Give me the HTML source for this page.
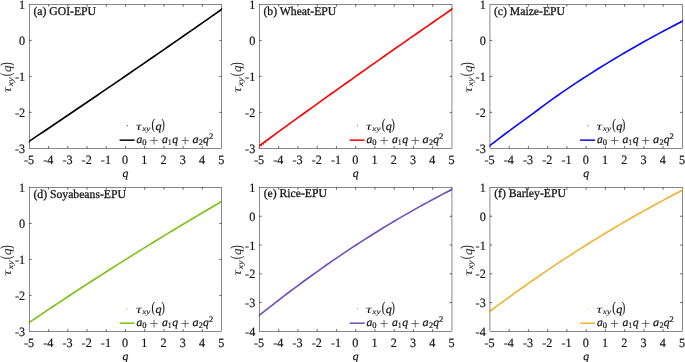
<!DOCTYPE html>
<html lang="en"><head><meta charset="utf-8"><title>Multifractal cross-correlation exponents</title>
<style>
html,body{margin:0;padding:0;background:#fff;}
body{width:685px;height:362px;overflow:hidden;}
svg{display:block;text-rendering:geometricPrecision;}
text{font-family:"Liberation Serif","DejaVu Serif",serif;fill:#141414;stroke:#141414;stroke-width:0.28px;}
.tk{font-size:12.2px;stroke-width:0.17px;}
.ti{font-size:11.7px;}
text.m{fill:#161616;stroke:#161616;stroke-width:0.22px;}
.i{font-style:italic;}
.pl{fill:#4e4e4e;stroke:none;}
text.yl{fill:#2a2a2a;stroke-width:0.08px;}
.ta{stroke:none;}
.sx{stroke-width:0.1px;}
.ax{stroke:#262626;stroke-width:0.54;fill:none;}
.tc{stroke-width:0.72;}
</style></head><body>
<svg width="685" height="362" viewBox="0 0 685 362">
<rect width="685" height="362" fill="#fff"/>
<g>
<polyline points="29.40,141.14 34.20,137.91 39.01,134.69 43.81,131.46 48.61,128.23 53.42,124.99 58.22,121.76 63.03,118.51 67.83,115.27 72.63,112.02 77.44,108.76 82.24,105.51 87.04,102.25 91.85,98.98 96.65,95.71 101.46,92.44 106.26,89.17 111.06,85.89 115.87,82.61 120.67,79.32 125.47,76.03 130.28,72.74 135.08,69.44 139.89,66.14 144.69,62.84 149.49,59.53 154.30,56.22 159.10,52.90 163.91,49.59 168.71,46.26 173.51,42.94 178.32,39.61 183.12,36.28 187.92,32.94 192.73,29.60 197.53,26.26 202.34,22.91 207.14,19.56 211.94,16.20 216.75,12.85 221.55,9.49" fill="none" stroke="#000000" stroke-width="1.62" stroke-linejoin="round"/>
<rect class="ax" x="29.4" y="4.45" width="192.15" height="143.88"/>
<path class="ax tc" d="M48.61 148.33v-2.2M48.61 4.45v2.2M67.83 148.33v-2.2M67.83 4.45v2.2M87.04 148.33v-2.2M87.04 4.45v2.2M106.26 148.33v-2.2M106.26 4.45v2.2M125.47 148.33v-2.2M125.47 4.45v2.2M144.69 148.33v-2.2M144.69 4.45v2.2M163.91 148.33v-2.2M163.91 4.45v2.2M183.12 148.33v-2.2M183.12 4.45v2.2M202.34 148.33v-2.2M202.34 4.45v2.2M29.4 112.36h2.2M221.55 112.36h-2.2M29.4 76.39h2.2M221.55 76.39h-2.2M29.4 40.42h2.2M221.55 40.42h-2.2"/>
<g fill="#000000"><circle cx="29.3" cy="141.94" r="0.75"/><circle cx="221.65" cy="8.74" r="0.75"/><circle cx="219.63" cy="10.38" r="0.75"/><circle cx="217.71" cy="11.9" r="0.75"/><circle cx="215.79" cy="13.35" r="0.75"/><circle cx="213.86" cy="14.76" r="0.75"/></g>
<text class="tk" transform="translate(29.05 163.53) scale(1 1.04)" text-anchor="middle">-5</text>
<text class="tk" transform="translate(48.26 163.53) scale(1 1.04)" text-anchor="middle">-4</text>
<text class="tk" transform="translate(67.48 163.53) scale(1 1.04)" text-anchor="middle">-3</text>
<text class="tk" transform="translate(86.69 163.53) scale(1 1.04)" text-anchor="middle">-2</text>
<text class="tk" transform="translate(105.91 163.53) scale(1 1.04)" text-anchor="middle">-1</text>
<text class="tk" transform="translate(125.12 163.53) scale(1 1.04)" text-anchor="middle">0</text>
<text class="tk" transform="translate(144.34 163.53) scale(1 1.04)" text-anchor="middle">1</text>
<text class="tk" transform="translate(163.56 163.53) scale(1 1.04)" text-anchor="middle">2</text>
<text class="tk" transform="translate(182.77 163.53) scale(1 1.04)" text-anchor="middle">3</text>
<text class="tk" transform="translate(201.99 163.53) scale(1 1.04)" text-anchor="middle">4</text>
<text class="tk" transform="translate(221.2 163.53) scale(1 1.04)" text-anchor="middle">5</text>
<text class="tk" transform="translate(25.2 152.78) scale(1 1.04)" text-anchor="end">-3</text>
<text class="tk" transform="translate(25.2 116.81) scale(1 1.04)" text-anchor="end">-2</text>
<text class="tk" transform="translate(25.2 80.84) scale(1 1.04)" text-anchor="end">-1</text>
<text class="tk" transform="translate(25.2 44.87) scale(1 1.04)" text-anchor="end">0</text>
<text class="tk" transform="translate(25.2 8.9) scale(1 1.04)" text-anchor="end">1</text>
<text class="ti" transform="translate(33.4 15.1) scale(1 1.02)">(a) GOI-EPU</text>
<text class="m" transform="translate(125.58 176.58)"><tspan class="i" x="-2.99" y="0" font-size="11.5" textLength="5.86" lengthAdjust="spacingAndGlyphs">q</tspan></text>
<text class="m yl" transform="translate(11.1 92.45) rotate(-90) scale(1.06)"><tspan class="i ta" x="-0.19" y="0" font-size="11.5" textLength="5.57" lengthAdjust="spacingAndGlyphs">τ</tspan><tspan class="i sx" x="5.96" y="1.6" font-size="7.3" textLength="8.28" lengthAdjust="spacingAndGlyphs">xy</tspan><tspan x="15.34" y="-0.2" font-size="14.6" textLength="3.5" lengthAdjust="spacingAndGlyphs">(</tspan><tspan class="i" x="19.35" y="0" font-size="11.5" textLength="6.09" lengthAdjust="spacingAndGlyphs">q</tspan><tspan x="25.29" y="-0.2" font-size="14.6" textLength="3.24" lengthAdjust="spacingAndGlyphs">)</tspan></text>
<circle cx="127.3" cy="125.7" r="0.55" fill="#000000"/>
<text class="m" transform="translate(136.25 129.5)"><tspan class="i ta" x="-0.19" y="0" font-size="11.5" textLength="5.57" lengthAdjust="spacingAndGlyphs">τ</tspan><tspan class="i sx" x="5.96" y="1.6" font-size="7.3" textLength="8.28" lengthAdjust="spacingAndGlyphs">xy</tspan><tspan x="15.34" y="-0.2" font-size="14.6" textLength="3.5" lengthAdjust="spacingAndGlyphs">(</tspan><tspan class="i" x="19.35" y="0" font-size="11.5" textLength="6.09" lengthAdjust="spacingAndGlyphs">q</tspan><tspan x="25.29" y="-0.2" font-size="14.6" textLength="3.24" lengthAdjust="spacingAndGlyphs">)</tspan></text>
<line x1="119.6" y1="140.15" x2="134.6" y2="140.15" stroke="#000000" stroke-width="1.5"/>
<text class="m" transform="translate(136.25 142.9)"><tspan class="i" x="0.21" y="0" font-size="11.5" textLength="5.78" lengthAdjust="spacingAndGlyphs">a</tspan><tspan x="6.03" y="1.9" font-size="8.4" textLength="4.25" lengthAdjust="spacingAndGlyphs">0</tspan><tspan class="pl" x="13.25" y="2.6" font-size="16" textLength="9.09" lengthAdjust="spacingAndGlyphs">+</tspan><tspan class="i" x="25.7" y="0" font-size="11.5" textLength="5.89" lengthAdjust="spacingAndGlyphs">a</tspan><tspan x="31.75" y="1.9" font-size="8.4" textLength="3.41" lengthAdjust="spacingAndGlyphs">1</tspan><tspan class="i" x="35.96" y="0" font-size="11.5" textLength="5.86" lengthAdjust="spacingAndGlyphs">q</tspan><tspan class="pl" x="44.23" y="2.6" font-size="16" textLength="9.33" lengthAdjust="spacingAndGlyphs">+</tspan><tspan class="i" x="56.29" y="0" font-size="11.5" textLength="6.13" lengthAdjust="spacingAndGlyphs">a</tspan><tspan x="62.59" y="1.9" font-size="8.4" textLength="4.12" lengthAdjust="spacingAndGlyphs">2</tspan><tspan class="i" x="66.87" y="0" font-size="11.5" textLength="5.75" lengthAdjust="spacingAndGlyphs">q</tspan><tspan x="72.78" y="-4.2" font-size="8.4" textLength="4.24" lengthAdjust="spacingAndGlyphs">2</tspan></text>
</g>
<g>
<polyline points="259.45,145.69 264.26,142.17 269.07,138.66 273.89,135.15 278.70,131.65 283.51,128.16 288.32,124.67 293.14,121.19 297.95,117.71 302.76,114.24 307.57,110.77 312.39,107.31 317.20,103.85 322.01,100.40 326.82,96.95 331.64,93.51 336.45,90.08 341.26,86.65 346.07,83.22 350.89,79.80 355.70,76.39 360.51,72.98 365.32,69.58 370.14,66.18 374.95,62.79 379.76,59.40 384.57,56.02 389.39,52.65 394.20,49.28 399.01,45.91 403.82,42.55 408.64,39.20 413.45,35.85 418.26,32.50 423.07,29.17 427.89,25.83 432.70,22.51 437.51,19.19 442.32,15.87 447.14,12.56 451.95,9.25" fill="none" stroke="#ff0000" stroke-width="1.62" stroke-linejoin="round"/>
<rect class="ax" x="259.45" y="4.45" width="192.5" height="143.88"/>
<path class="ax tc" d="M278.7 148.33v-2.2M278.7 4.45v2.2M297.95 148.33v-2.2M297.95 4.45v2.2M317.2 148.33v-2.2M317.2 4.45v2.2M336.45 148.33v-2.2M336.45 4.45v2.2M355.7 148.33v-2.2M355.7 4.45v2.2M374.95 148.33v-2.2M374.95 4.45v2.2M394.2 148.33v-2.2M394.2 4.45v2.2M413.45 148.33v-2.2M413.45 4.45v2.2M432.7 148.33v-2.2M432.7 4.45v2.2M259.45 112.36h2.2M451.95 112.36h-2.2M259.45 76.39h2.2M451.95 76.39h-2.2M259.45 40.42h2.2M451.95 40.42h-2.2"/>
<g fill="#ff0000"><circle cx="259.35" cy="147.79" r="0.75"/><circle cx="452.05" cy="8.5" r="0.75"/><circle cx="450.02" cy="10.12" r="0.75"/><circle cx="448.1" cy="11.62" r="0.75"/><circle cx="446.17" cy="13.05" r="0.75"/><circle cx="444.25" cy="14.44" r="0.75"/><circle cx="261.38" cy="145.78" r="0.75"/><circle cx="263.3" cy="143.95" r="0.75"/><circle cx="265.22" cy="142.24" r="0.75"/><circle cx="267.15" cy="140.62" r="0.75"/><circle cx="269.07" cy="139.06" r="0.75"/><circle cx="271" cy="137.54" r="0.75"/><circle cx="272.93" cy="136.06" r="0.75"/><circle cx="274.85" cy="134.6" r="0.75"/></g>
<text class="tk" transform="translate(259.1 163.53) scale(1 1.04)" text-anchor="middle">-5</text>
<text class="tk" transform="translate(278.35 163.53) scale(1 1.04)" text-anchor="middle">-4</text>
<text class="tk" transform="translate(297.6 163.53) scale(1 1.04)" text-anchor="middle">-3</text>
<text class="tk" transform="translate(316.85 163.53) scale(1 1.04)" text-anchor="middle">-2</text>
<text class="tk" transform="translate(336.1 163.53) scale(1 1.04)" text-anchor="middle">-1</text>
<text class="tk" transform="translate(355.35 163.53) scale(1 1.04)" text-anchor="middle">0</text>
<text class="tk" transform="translate(374.6 163.53) scale(1 1.04)" text-anchor="middle">1</text>
<text class="tk" transform="translate(393.85 163.53) scale(1 1.04)" text-anchor="middle">2</text>
<text class="tk" transform="translate(413.1 163.53) scale(1 1.04)" text-anchor="middle">3</text>
<text class="tk" transform="translate(432.35 163.53) scale(1 1.04)" text-anchor="middle">4</text>
<text class="tk" transform="translate(451.6 163.53) scale(1 1.04)" text-anchor="middle">5</text>
<text class="tk" transform="translate(255.25 152.78) scale(1 1.04)" text-anchor="end">-3</text>
<text class="tk" transform="translate(255.25 116.81) scale(1 1.04)" text-anchor="end">-2</text>
<text class="tk" transform="translate(255.25 80.84) scale(1 1.04)" text-anchor="end">-1</text>
<text class="tk" transform="translate(255.25 44.87) scale(1 1.04)" text-anchor="end">0</text>
<text class="tk" transform="translate(255.25 8.9) scale(1 1.04)" text-anchor="end">1</text>
<text class="ti" transform="translate(263.45 15.1) scale(1 1.02)">(b) Wheat-EPU</text>
<text class="m" transform="translate(355.8 176.58)"><tspan class="i" x="-2.99" y="0" font-size="11.5" textLength="5.86" lengthAdjust="spacingAndGlyphs">q</tspan></text>
<text class="m yl" transform="translate(241.15 92.45) rotate(-90) scale(1.06)"><tspan class="i ta" x="-0.19" y="0" font-size="11.5" textLength="5.57" lengthAdjust="spacingAndGlyphs">τ</tspan><tspan class="i sx" x="5.96" y="1.6" font-size="7.3" textLength="8.28" lengthAdjust="spacingAndGlyphs">xy</tspan><tspan x="15.34" y="-0.2" font-size="14.6" textLength="3.5" lengthAdjust="spacingAndGlyphs">(</tspan><tspan class="i" x="19.35" y="0" font-size="11.5" textLength="6.09" lengthAdjust="spacingAndGlyphs">q</tspan><tspan x="25.29" y="-0.2" font-size="14.6" textLength="3.24" lengthAdjust="spacingAndGlyphs">)</tspan></text>
<circle cx="357.35" cy="125.7" r="0.55" fill="#ff0000"/>
<text class="m" transform="translate(366.3 129.5)"><tspan class="i ta" x="-0.19" y="0" font-size="11.5" textLength="5.57" lengthAdjust="spacingAndGlyphs">τ</tspan><tspan class="i sx" x="5.96" y="1.6" font-size="7.3" textLength="8.28" lengthAdjust="spacingAndGlyphs">xy</tspan><tspan x="15.34" y="-0.2" font-size="14.6" textLength="3.5" lengthAdjust="spacingAndGlyphs">(</tspan><tspan class="i" x="19.35" y="0" font-size="11.5" textLength="6.09" lengthAdjust="spacingAndGlyphs">q</tspan><tspan x="25.29" y="-0.2" font-size="14.6" textLength="3.24" lengthAdjust="spacingAndGlyphs">)</tspan></text>
<line x1="349.65" y1="140.15" x2="364.65" y2="140.15" stroke="#ff0000" stroke-width="1.5"/>
<text class="m" transform="translate(366.3 142.9)"><tspan class="i" x="0.21" y="0" font-size="11.5" textLength="5.78" lengthAdjust="spacingAndGlyphs">a</tspan><tspan x="6.03" y="1.9" font-size="8.4" textLength="4.25" lengthAdjust="spacingAndGlyphs">0</tspan><tspan class="pl" x="13.25" y="2.6" font-size="16" textLength="9.09" lengthAdjust="spacingAndGlyphs">+</tspan><tspan class="i" x="25.7" y="0" font-size="11.5" textLength="5.89" lengthAdjust="spacingAndGlyphs">a</tspan><tspan x="31.75" y="1.9" font-size="8.4" textLength="3.41" lengthAdjust="spacingAndGlyphs">1</tspan><tspan class="i" x="35.96" y="0" font-size="11.5" textLength="5.86" lengthAdjust="spacingAndGlyphs">q</tspan><tspan class="pl" x="44.23" y="2.6" font-size="16" textLength="9.33" lengthAdjust="spacingAndGlyphs">+</tspan><tspan class="i" x="56.29" y="0" font-size="11.5" textLength="6.13" lengthAdjust="spacingAndGlyphs">a</tspan><tspan x="62.59" y="1.9" font-size="8.4" textLength="4.12" lengthAdjust="spacingAndGlyphs">2</tspan><tspan class="i" x="66.87" y="0" font-size="11.5" textLength="5.75" lengthAdjust="spacingAndGlyphs">q</tspan><tspan x="72.78" y="-4.2" font-size="8.4" textLength="4.24" lengthAdjust="spacingAndGlyphs">2</tspan></text>
</g>
<g>
<polyline points="489.95,145.44 494.76,141.78 499.57,138.12 504.38,134.50 509.19,130.94 514.00,127.42 518.81,123.92 523.62,120.40 528.43,116.86 533.24,113.29 538.05,109.73 542.86,106.17 547.67,102.65 552.48,99.17 557.29,95.76 562.10,92.40 566.91,89.10 571.72,85.85 576.53,82.66 581.34,79.51 586.15,76.40 590.96,73.33 595.77,70.29 600.58,67.29 605.39,64.32 610.20,61.38 615.01,58.48 619.82,55.61 624.63,52.78 629.44,49.98 634.25,47.21 639.06,44.47 643.87,41.77 648.68,39.10 653.49,36.47 658.30,33.87 663.11,31.30 667.92,28.76 672.73,26.26 677.54,23.79 682.35,21.36" fill="none" stroke="#0a0aff" stroke-width="1.62" stroke-linejoin="round"/>
<rect class="ax" x="489.95" y="4.45" width="192.4" height="143.88"/>
<path class="ax tc" d="M509.19 148.33v-2.2M509.19 4.45v2.2M528.43 148.33v-2.2M528.43 4.45v2.2M547.67 148.33v-2.2M547.67 4.45v2.2M566.91 148.33v-2.2M566.91 4.45v2.2M586.15 148.33v-2.2M586.15 4.45v2.2M605.39 148.33v-2.2M605.39 4.45v2.2M624.63 148.33v-2.2M624.63 4.45v2.2M643.87 148.33v-2.2M643.87 4.45v2.2M663.11 148.33v-2.2M663.11 4.45v2.2M489.95 112.36h2.2M682.35 112.36h-2.2M489.95 76.39h2.2M682.35 76.39h-2.2M489.95 40.42h2.2M682.35 40.42h-2.2"/>
<g fill="#0a0aff"><circle cx="489.85" cy="146.24" r="0.75"/><circle cx="682.45" cy="20.61" r="0.75"/><circle cx="680.43" cy="21.87" r="0.75"/><circle cx="678.5" cy="23.03" r="0.75"/><circle cx="676.58" cy="24.12" r="0.75"/><circle cx="674.65" cy="25.17" r="0.75"/></g>
<text class="tk" transform="translate(489.6 163.53) scale(1 1.04)" text-anchor="middle">-5</text>
<text class="tk" transform="translate(508.84 163.53) scale(1 1.04)" text-anchor="middle">-4</text>
<text class="tk" transform="translate(528.08 163.53) scale(1 1.04)" text-anchor="middle">-3</text>
<text class="tk" transform="translate(547.32 163.53) scale(1 1.04)" text-anchor="middle">-2</text>
<text class="tk" transform="translate(566.56 163.53) scale(1 1.04)" text-anchor="middle">-1</text>
<text class="tk" transform="translate(585.8 163.53) scale(1 1.04)" text-anchor="middle">0</text>
<text class="tk" transform="translate(605.04 163.53) scale(1 1.04)" text-anchor="middle">1</text>
<text class="tk" transform="translate(624.28 163.53) scale(1 1.04)" text-anchor="middle">2</text>
<text class="tk" transform="translate(643.52 163.53) scale(1 1.04)" text-anchor="middle">3</text>
<text class="tk" transform="translate(662.76 163.53) scale(1 1.04)" text-anchor="middle">4</text>
<text class="tk" transform="translate(682 163.53) scale(1 1.04)" text-anchor="middle">5</text>
<text class="tk" transform="translate(485.75 152.78) scale(1 1.04)" text-anchor="end">-3</text>
<text class="tk" transform="translate(485.75 116.81) scale(1 1.04)" text-anchor="end">-2</text>
<text class="tk" transform="translate(485.75 80.84) scale(1 1.04)" text-anchor="end">-1</text>
<text class="tk" transform="translate(485.75 44.87) scale(1 1.04)" text-anchor="end">0</text>
<text class="tk" transform="translate(485.75 8.9) scale(1 1.04)" text-anchor="end">1</text>
<text class="ti" transform="translate(493.95 15.1) scale(1 1.02)">(c) Maize-EPU</text>
<text class="m" transform="translate(586.25 176.58)"><tspan class="i" x="-2.99" y="0" font-size="11.5" textLength="5.86" lengthAdjust="spacingAndGlyphs">q</tspan></text>
<text class="m yl" transform="translate(471.65 92.45) rotate(-90) scale(1.06)"><tspan class="i ta" x="-0.19" y="0" font-size="11.5" textLength="5.57" lengthAdjust="spacingAndGlyphs">τ</tspan><tspan class="i sx" x="5.96" y="1.6" font-size="7.3" textLength="8.28" lengthAdjust="spacingAndGlyphs">xy</tspan><tspan x="15.34" y="-0.2" font-size="14.6" textLength="3.5" lengthAdjust="spacingAndGlyphs">(</tspan><tspan class="i" x="19.35" y="0" font-size="11.5" textLength="6.09" lengthAdjust="spacingAndGlyphs">q</tspan><tspan x="25.29" y="-0.2" font-size="14.6" textLength="3.24" lengthAdjust="spacingAndGlyphs">)</tspan></text>
<circle cx="587.85" cy="125.7" r="0.55" fill="#0a0aff"/>
<text class="m" transform="translate(596.8 129.5)"><tspan class="i ta" x="-0.19" y="0" font-size="11.5" textLength="5.57" lengthAdjust="spacingAndGlyphs">τ</tspan><tspan class="i sx" x="5.96" y="1.6" font-size="7.3" textLength="8.28" lengthAdjust="spacingAndGlyphs">xy</tspan><tspan x="15.34" y="-0.2" font-size="14.6" textLength="3.5" lengthAdjust="spacingAndGlyphs">(</tspan><tspan class="i" x="19.35" y="0" font-size="11.5" textLength="6.09" lengthAdjust="spacingAndGlyphs">q</tspan><tspan x="25.29" y="-0.2" font-size="14.6" textLength="3.24" lengthAdjust="spacingAndGlyphs">)</tspan></text>
<line x1="580.15" y1="140.15" x2="595.15" y2="140.15" stroke="#0a0aff" stroke-width="1.5"/>
<text class="m" transform="translate(596.8 142.9)"><tspan class="i" x="0.21" y="0" font-size="11.5" textLength="5.78" lengthAdjust="spacingAndGlyphs">a</tspan><tspan x="6.03" y="1.9" font-size="8.4" textLength="4.25" lengthAdjust="spacingAndGlyphs">0</tspan><tspan class="pl" x="13.25" y="2.6" font-size="16" textLength="9.09" lengthAdjust="spacingAndGlyphs">+</tspan><tspan class="i" x="25.7" y="0" font-size="11.5" textLength="5.89" lengthAdjust="spacingAndGlyphs">a</tspan><tspan x="31.75" y="1.9" font-size="8.4" textLength="3.41" lengthAdjust="spacingAndGlyphs">1</tspan><tspan class="i" x="35.96" y="0" font-size="11.5" textLength="5.86" lengthAdjust="spacingAndGlyphs">q</tspan><tspan class="pl" x="44.23" y="2.6" font-size="16" textLength="9.33" lengthAdjust="spacingAndGlyphs">+</tspan><tspan class="i" x="56.29" y="0" font-size="11.5" textLength="6.13" lengthAdjust="spacingAndGlyphs">a</tspan><tspan x="62.59" y="1.9" font-size="8.4" textLength="4.12" lengthAdjust="spacingAndGlyphs">2</tspan><tspan class="i" x="66.87" y="0" font-size="11.5" textLength="5.75" lengthAdjust="spacingAndGlyphs">q</tspan><tspan x="72.78" y="-4.2" font-size="8.4" textLength="4.24" lengthAdjust="spacingAndGlyphs">2</tspan></text>
</g>
<g>
<polyline points="29.40,322.39 34.20,319.14 39.01,315.90 43.81,312.67 48.61,309.45 53.42,306.25 58.22,303.06 63.03,299.88 67.83,296.71 72.63,293.55 77.44,290.41 82.24,287.28 87.04,284.16 91.85,281.05 96.65,277.95 101.46,274.87 106.26,271.79 111.06,268.73 115.87,265.68 120.67,262.65 125.47,259.62 130.28,256.61 135.08,253.60 139.89,250.61 144.69,247.64 149.49,244.67 154.30,241.72 159.10,238.77 163.91,235.84 168.71,232.92 173.51,230.02 178.32,227.12 183.12,224.24 187.92,221.37 192.73,218.51 197.53,215.66 202.34,212.82 207.14,210.00 211.94,207.19 216.75,204.39 221.55,201.60" fill="none" stroke="#7cc010" stroke-width="1.62" stroke-linejoin="round"/>
<rect class="ax" x="29.4" y="187.5" width="192.15" height="143.88"/>
<path class="ax tc" d="M48.61 331.38v-2.2M48.61 187.5v2.2M67.83 331.38v-2.2M67.83 187.5v2.2M87.04 331.38v-2.2M87.04 187.5v2.2M106.26 331.38v-2.2M106.26 187.5v2.2M125.47 331.38v-2.2M125.47 187.5v2.2M144.69 331.38v-2.2M144.69 187.5v2.2M163.91 331.38v-2.2M163.91 187.5v2.2M183.12 331.38v-2.2M183.12 187.5v2.2M202.34 331.38v-2.2M202.34 187.5v2.2M29.4 295.41h2.2M221.55 295.41h-2.2M29.4 259.44h2.2M221.55 259.44h-2.2M29.4 223.47h2.2M221.55 223.47h-2.2"/>
<g fill="#7cc010"><circle cx="29.3" cy="323.19" r="0.75"/><circle cx="221.65" cy="200.85" r="0.75"/><circle cx="219.63" cy="202.26" r="0.75"/><circle cx="217.71" cy="203.55" r="0.75"/><circle cx="215.79" cy="204.78" r="0.75"/><circle cx="213.86" cy="205.97" r="0.75"/></g>
<text class="tk" transform="translate(29.05 346.58) scale(1 1.04)" text-anchor="middle">-5</text>
<text class="tk" transform="translate(48.26 346.58) scale(1 1.04)" text-anchor="middle">-4</text>
<text class="tk" transform="translate(67.48 346.58) scale(1 1.04)" text-anchor="middle">-3</text>
<text class="tk" transform="translate(86.69 346.58) scale(1 1.04)" text-anchor="middle">-2</text>
<text class="tk" transform="translate(105.91 346.58) scale(1 1.04)" text-anchor="middle">-1</text>
<text class="tk" transform="translate(125.12 346.58) scale(1 1.04)" text-anchor="middle">0</text>
<text class="tk" transform="translate(144.34 346.58) scale(1 1.04)" text-anchor="middle">1</text>
<text class="tk" transform="translate(163.56 346.58) scale(1 1.04)" text-anchor="middle">2</text>
<text class="tk" transform="translate(182.77 346.58) scale(1 1.04)" text-anchor="middle">3</text>
<text class="tk" transform="translate(201.99 346.58) scale(1 1.04)" text-anchor="middle">4</text>
<text class="tk" transform="translate(221.2 346.58) scale(1 1.04)" text-anchor="middle">5</text>
<text class="tk" transform="translate(25.2 335.83) scale(1 1.04)" text-anchor="end">-3</text>
<text class="tk" transform="translate(25.2 299.86) scale(1 1.04)" text-anchor="end">-2</text>
<text class="tk" transform="translate(25.2 263.89) scale(1 1.04)" text-anchor="end">-1</text>
<text class="tk" transform="translate(25.2 227.92) scale(1 1.04)" text-anchor="end">0</text>
<text class="tk" transform="translate(25.2 191.95) scale(1 1.04)" text-anchor="end">1</text>
<text class="ti" transform="translate(33.4 198.15) scale(1 1.02)">(d) Soyabeans-EPU</text>
<text class="m" transform="translate(125.58 359.63)"><tspan class="i" x="-2.99" y="0" font-size="11.5" textLength="5.86" lengthAdjust="spacingAndGlyphs">q</tspan></text>
<text class="m yl" transform="translate(11.1 275.5) rotate(-90) scale(1.06)"><tspan class="i ta" x="-0.19" y="0" font-size="11.5" textLength="5.57" lengthAdjust="spacingAndGlyphs">τ</tspan><tspan class="i sx" x="5.96" y="1.6" font-size="7.3" textLength="8.28" lengthAdjust="spacingAndGlyphs">xy</tspan><tspan x="15.34" y="-0.2" font-size="14.6" textLength="3.5" lengthAdjust="spacingAndGlyphs">(</tspan><tspan class="i" x="19.35" y="0" font-size="11.5" textLength="6.09" lengthAdjust="spacingAndGlyphs">q</tspan><tspan x="25.29" y="-0.2" font-size="14.6" textLength="3.24" lengthAdjust="spacingAndGlyphs">)</tspan></text>
<circle cx="127.3" cy="308.75" r="0.55" fill="#7cc010"/>
<text class="m" transform="translate(136.25 312.55)"><tspan class="i ta" x="-0.19" y="0" font-size="11.5" textLength="5.57" lengthAdjust="spacingAndGlyphs">τ</tspan><tspan class="i sx" x="5.96" y="1.6" font-size="7.3" textLength="8.28" lengthAdjust="spacingAndGlyphs">xy</tspan><tspan x="15.34" y="-0.2" font-size="14.6" textLength="3.5" lengthAdjust="spacingAndGlyphs">(</tspan><tspan class="i" x="19.35" y="0" font-size="11.5" textLength="6.09" lengthAdjust="spacingAndGlyphs">q</tspan><tspan x="25.29" y="-0.2" font-size="14.6" textLength="3.24" lengthAdjust="spacingAndGlyphs">)</tspan></text>
<line x1="119.6" y1="323.2" x2="134.6" y2="323.2" stroke="#7cc010" stroke-width="1.5"/>
<text class="m" transform="translate(136.25 325.95)"><tspan class="i" x="0.21" y="0" font-size="11.5" textLength="5.78" lengthAdjust="spacingAndGlyphs">a</tspan><tspan x="6.03" y="1.9" font-size="8.4" textLength="4.25" lengthAdjust="spacingAndGlyphs">0</tspan><tspan class="pl" x="13.25" y="2.6" font-size="16" textLength="9.09" lengthAdjust="spacingAndGlyphs">+</tspan><tspan class="i" x="25.7" y="0" font-size="11.5" textLength="5.89" lengthAdjust="spacingAndGlyphs">a</tspan><tspan x="31.75" y="1.9" font-size="8.4" textLength="3.41" lengthAdjust="spacingAndGlyphs">1</tspan><tspan class="i" x="35.96" y="0" font-size="11.5" textLength="5.86" lengthAdjust="spacingAndGlyphs">q</tspan><tspan class="pl" x="44.23" y="2.6" font-size="16" textLength="9.33" lengthAdjust="spacingAndGlyphs">+</tspan><tspan class="i" x="56.29" y="0" font-size="11.5" textLength="6.13" lengthAdjust="spacingAndGlyphs">a</tspan><tspan x="62.59" y="1.9" font-size="8.4" textLength="4.12" lengthAdjust="spacingAndGlyphs">2</tspan><tspan class="i" x="66.87" y="0" font-size="11.5" textLength="5.75" lengthAdjust="spacingAndGlyphs">q</tspan><tspan x="72.78" y="-4.2" font-size="8.4" textLength="4.24" lengthAdjust="spacingAndGlyphs">2</tspan></text>
</g>
<g>
<polyline points="259.45,315.21 264.26,311.38 269.07,307.58 273.89,303.82 278.70,300.09 283.51,296.40 288.32,292.75 293.14,289.13 297.95,285.55 302.76,282.00 307.57,278.48 312.39,275.00 317.20,271.56 322.01,268.15 326.82,264.78 331.64,261.44 336.45,258.14 341.26,254.87 346.07,251.64 350.89,248.44 355.70,245.28 360.51,242.16 365.32,239.07 370.14,236.01 374.95,232.99 379.76,230.00 384.57,227.05 389.39,224.14 394.20,221.26 399.01,218.42 403.82,215.61 408.64,212.83 413.45,210.09 418.26,207.39 423.07,204.72 427.89,202.09 432.70,199.49 437.51,196.93 442.32,194.40 447.14,191.91 451.95,189.46" fill="none" stroke="#6f4fbe" stroke-width="1.62" stroke-linejoin="round"/>
<rect class="ax" x="259.45" y="187.5" width="192.5" height="143.88"/>
<path class="ax tc" d="M278.7 331.38v-2.2M278.7 187.5v2.2M297.95 331.38v-2.2M297.95 187.5v2.2M317.2 331.38v-2.2M317.2 187.5v2.2M336.45 331.38v-2.2M336.45 187.5v2.2M355.7 331.38v-2.2M355.7 187.5v2.2M374.95 331.38v-2.2M374.95 187.5v2.2M394.2 331.38v-2.2M394.2 187.5v2.2M413.45 331.38v-2.2M413.45 187.5v2.2M432.7 331.38v-2.2M432.7 187.5v2.2M259.45 302.6h2.2M451.95 302.6h-2.2M259.45 273.83h2.2M451.95 273.83h-2.2M259.45 245.05h2.2M451.95 245.05h-2.2M259.45 216.28h2.2M451.95 216.28h-2.2"/>
<g fill="#6f4fbe"><circle cx="259.35" cy="316.01" r="0.75"/><circle cx="452.05" cy="188.71" r="0.75"/><circle cx="450.02" cy="189.98" r="0.75"/><circle cx="448.1" cy="191.14" r="0.75"/><circle cx="446.17" cy="192.24" r="0.75"/><circle cx="444.25" cy="193.3" r="0.75"/></g>
<text class="tk" transform="translate(259.1 346.58) scale(1 1.04)" text-anchor="middle">-5</text>
<text class="tk" transform="translate(278.35 346.58) scale(1 1.04)" text-anchor="middle">-4</text>
<text class="tk" transform="translate(297.6 346.58) scale(1 1.04)" text-anchor="middle">-3</text>
<text class="tk" transform="translate(316.85 346.58) scale(1 1.04)" text-anchor="middle">-2</text>
<text class="tk" transform="translate(336.1 346.58) scale(1 1.04)" text-anchor="middle">-1</text>
<text class="tk" transform="translate(355.35 346.58) scale(1 1.04)" text-anchor="middle">0</text>
<text class="tk" transform="translate(374.6 346.58) scale(1 1.04)" text-anchor="middle">1</text>
<text class="tk" transform="translate(393.85 346.58) scale(1 1.04)" text-anchor="middle">2</text>
<text class="tk" transform="translate(413.1 346.58) scale(1 1.04)" text-anchor="middle">3</text>
<text class="tk" transform="translate(432.35 346.58) scale(1 1.04)" text-anchor="middle">4</text>
<text class="tk" transform="translate(451.6 346.58) scale(1 1.04)" text-anchor="middle">5</text>
<text class="tk" transform="translate(255.25 335.83) scale(1 1.04)" text-anchor="end">-4</text>
<text class="tk" transform="translate(255.25 307.05) scale(1 1.04)" text-anchor="end">-3</text>
<text class="tk" transform="translate(255.25 278.28) scale(1 1.04)" text-anchor="end">-2</text>
<text class="tk" transform="translate(255.25 249.5) scale(1 1.04)" text-anchor="end">-1</text>
<text class="tk" transform="translate(255.25 220.73) scale(1 1.04)" text-anchor="end">0</text>
<text class="tk" transform="translate(255.25 191.95) scale(1 1.04)" text-anchor="end">1</text>
<text class="ti" transform="translate(263.65 196.8) scale(1 1.02)">(e) Rice-EPU</text>
<text class="m" transform="translate(355.8 359.63)"><tspan class="i" x="-2.99" y="0" font-size="11.5" textLength="5.86" lengthAdjust="spacingAndGlyphs">q</tspan></text>
<text class="m yl" transform="translate(241.15 275.5) rotate(-90) scale(1.06)"><tspan class="i ta" x="-0.19" y="0" font-size="11.5" textLength="5.57" lengthAdjust="spacingAndGlyphs">τ</tspan><tspan class="i sx" x="5.96" y="1.6" font-size="7.3" textLength="8.28" lengthAdjust="spacingAndGlyphs">xy</tspan><tspan x="15.34" y="-0.2" font-size="14.6" textLength="3.5" lengthAdjust="spacingAndGlyphs">(</tspan><tspan class="i" x="19.35" y="0" font-size="11.5" textLength="6.09" lengthAdjust="spacingAndGlyphs">q</tspan><tspan x="25.29" y="-0.2" font-size="14.6" textLength="3.24" lengthAdjust="spacingAndGlyphs">)</tspan></text>
<circle cx="357.35" cy="308.75" r="0.55" fill="#6f4fbe"/>
<text class="m" transform="translate(366.3 312.55)"><tspan class="i ta" x="-0.19" y="0" font-size="11.5" textLength="5.57" lengthAdjust="spacingAndGlyphs">τ</tspan><tspan class="i sx" x="5.96" y="1.6" font-size="7.3" textLength="8.28" lengthAdjust="spacingAndGlyphs">xy</tspan><tspan x="15.34" y="-0.2" font-size="14.6" textLength="3.5" lengthAdjust="spacingAndGlyphs">(</tspan><tspan class="i" x="19.35" y="0" font-size="11.5" textLength="6.09" lengthAdjust="spacingAndGlyphs">q</tspan><tspan x="25.29" y="-0.2" font-size="14.6" textLength="3.24" lengthAdjust="spacingAndGlyphs">)</tspan></text>
<line x1="349.65" y1="323.2" x2="364.65" y2="323.2" stroke="#6f4fbe" stroke-width="1.5"/>
<text class="m" transform="translate(366.3 325.95)"><tspan class="i" x="0.21" y="0" font-size="11.5" textLength="5.78" lengthAdjust="spacingAndGlyphs">a</tspan><tspan x="6.03" y="1.9" font-size="8.4" textLength="4.25" lengthAdjust="spacingAndGlyphs">0</tspan><tspan class="pl" x="13.25" y="2.6" font-size="16" textLength="9.09" lengthAdjust="spacingAndGlyphs">+</tspan><tspan class="i" x="25.7" y="0" font-size="11.5" textLength="5.89" lengthAdjust="spacingAndGlyphs">a</tspan><tspan x="31.75" y="1.9" font-size="8.4" textLength="3.41" lengthAdjust="spacingAndGlyphs">1</tspan><tspan class="i" x="35.96" y="0" font-size="11.5" textLength="5.86" lengthAdjust="spacingAndGlyphs">q</tspan><tspan class="pl" x="44.23" y="2.6" font-size="16" textLength="9.33" lengthAdjust="spacingAndGlyphs">+</tspan><tspan class="i" x="56.29" y="0" font-size="11.5" textLength="6.13" lengthAdjust="spacingAndGlyphs">a</tspan><tspan x="62.59" y="1.9" font-size="8.4" textLength="4.12" lengthAdjust="spacingAndGlyphs">2</tspan><tspan class="i" x="66.87" y="0" font-size="11.5" textLength="5.75" lengthAdjust="spacingAndGlyphs">q</tspan><tspan x="72.78" y="-4.2" font-size="8.4" textLength="4.24" lengthAdjust="spacingAndGlyphs">2</tspan></text>
</g>
<g>
<polyline points="489.95,311.24 494.76,307.65 499.57,304.10 504.38,300.58 509.19,297.08 514.00,293.61 518.81,290.17 523.62,286.76 528.43,283.38 533.24,280.03 538.05,276.71 542.86,273.41 547.67,270.14 552.48,266.91 557.29,263.70 562.10,260.52 566.91,257.37 571.72,254.25 576.53,251.15 581.34,248.09 586.15,245.05 590.96,242.04 595.77,239.07 600.58,236.12 605.39,233.20 610.20,230.30 615.01,227.44 619.82,224.61 624.63,221.80 629.44,219.02 634.25,216.28 639.06,213.56 643.87,210.87 648.68,208.20 653.49,205.57 658.30,202.97 663.11,200.39 667.92,197.84 672.73,195.33 677.54,192.84 682.35,190.38" fill="none" stroke="#eeb530" stroke-width="1.62" stroke-linejoin="round"/>
<rect class="ax" x="489.95" y="187.5" width="192.4" height="143.88"/>
<path class="ax tc" d="M509.19 331.38v-2.2M509.19 187.5v2.2M528.43 331.38v-2.2M528.43 187.5v2.2M547.67 331.38v-2.2M547.67 187.5v2.2M566.91 331.38v-2.2M566.91 187.5v2.2M586.15 331.38v-2.2M586.15 187.5v2.2M605.39 331.38v-2.2M605.39 187.5v2.2M624.63 331.38v-2.2M624.63 187.5v2.2M643.87 331.38v-2.2M643.87 187.5v2.2M663.11 331.38v-2.2M663.11 187.5v2.2M489.95 302.6h2.2M682.35 302.6h-2.2M489.95 273.83h2.2M682.35 273.83h-2.2M489.95 245.05h2.2M682.35 245.05h-2.2M489.95 216.28h2.2M682.35 216.28h-2.2"/>
<g fill="#eeb530"><circle cx="489.85" cy="312.04" r="0.75"/><circle cx="682.45" cy="189.63" r="0.75"/><circle cx="680.43" cy="190.9" r="0.75"/><circle cx="678.5" cy="192.07" r="0.75"/><circle cx="676.58" cy="193.17" r="0.75"/><circle cx="674.65" cy="194.23" r="0.75"/></g>
<text class="tk" transform="translate(489.6 346.58) scale(1 1.04)" text-anchor="middle">-5</text>
<text class="tk" transform="translate(508.84 346.58) scale(1 1.04)" text-anchor="middle">-4</text>
<text class="tk" transform="translate(528.08 346.58) scale(1 1.04)" text-anchor="middle">-3</text>
<text class="tk" transform="translate(547.32 346.58) scale(1 1.04)" text-anchor="middle">-2</text>
<text class="tk" transform="translate(566.56 346.58) scale(1 1.04)" text-anchor="middle">-1</text>
<text class="tk" transform="translate(585.8 346.58) scale(1 1.04)" text-anchor="middle">0</text>
<text class="tk" transform="translate(605.04 346.58) scale(1 1.04)" text-anchor="middle">1</text>
<text class="tk" transform="translate(624.28 346.58) scale(1 1.04)" text-anchor="middle">2</text>
<text class="tk" transform="translate(643.52 346.58) scale(1 1.04)" text-anchor="middle">3</text>
<text class="tk" transform="translate(662.76 346.58) scale(1 1.04)" text-anchor="middle">4</text>
<text class="tk" transform="translate(682 346.58) scale(1 1.04)" text-anchor="middle">5</text>
<text class="tk" transform="translate(485.75 335.83) scale(1 1.04)" text-anchor="end">-4</text>
<text class="tk" transform="translate(485.75 307.05) scale(1 1.04)" text-anchor="end">-3</text>
<text class="tk" transform="translate(485.75 278.28) scale(1 1.04)" text-anchor="end">-2</text>
<text class="tk" transform="translate(485.75 249.5) scale(1 1.04)" text-anchor="end">-1</text>
<text class="tk" transform="translate(485.75 220.73) scale(1 1.04)" text-anchor="end">0</text>
<text class="tk" transform="translate(485.75 191.95) scale(1 1.04)" text-anchor="end">1</text>
<text class="ti" transform="translate(494.15 196.8) scale(1 1.02)">(f) Barley-EPU</text>
<text class="m" transform="translate(586.25 359.63)"><tspan class="i" x="-2.99" y="0" font-size="11.5" textLength="5.86" lengthAdjust="spacingAndGlyphs">q</tspan></text>
<text class="m yl" transform="translate(471.65 275.5) rotate(-90) scale(1.06)"><tspan class="i ta" x="-0.19" y="0" font-size="11.5" textLength="5.57" lengthAdjust="spacingAndGlyphs">τ</tspan><tspan class="i sx" x="5.96" y="1.6" font-size="7.3" textLength="8.28" lengthAdjust="spacingAndGlyphs">xy</tspan><tspan x="15.34" y="-0.2" font-size="14.6" textLength="3.5" lengthAdjust="spacingAndGlyphs">(</tspan><tspan class="i" x="19.35" y="0" font-size="11.5" textLength="6.09" lengthAdjust="spacingAndGlyphs">q</tspan><tspan x="25.29" y="-0.2" font-size="14.6" textLength="3.24" lengthAdjust="spacingAndGlyphs">)</tspan></text>
<circle cx="587.85" cy="308.75" r="0.55" fill="#eeb530"/>
<text class="m" transform="translate(596.8 312.55)"><tspan class="i ta" x="-0.19" y="0" font-size="11.5" textLength="5.57" lengthAdjust="spacingAndGlyphs">τ</tspan><tspan class="i sx" x="5.96" y="1.6" font-size="7.3" textLength="8.28" lengthAdjust="spacingAndGlyphs">xy</tspan><tspan x="15.34" y="-0.2" font-size="14.6" textLength="3.5" lengthAdjust="spacingAndGlyphs">(</tspan><tspan class="i" x="19.35" y="0" font-size="11.5" textLength="6.09" lengthAdjust="spacingAndGlyphs">q</tspan><tspan x="25.29" y="-0.2" font-size="14.6" textLength="3.24" lengthAdjust="spacingAndGlyphs">)</tspan></text>
<line x1="580.15" y1="323.2" x2="595.15" y2="323.2" stroke="#eeb530" stroke-width="1.5"/>
<text class="m" transform="translate(596.8 325.95)"><tspan class="i" x="0.21" y="0" font-size="11.5" textLength="5.78" lengthAdjust="spacingAndGlyphs">a</tspan><tspan x="6.03" y="1.9" font-size="8.4" textLength="4.25" lengthAdjust="spacingAndGlyphs">0</tspan><tspan class="pl" x="13.25" y="2.6" font-size="16" textLength="9.09" lengthAdjust="spacingAndGlyphs">+</tspan><tspan class="i" x="25.7" y="0" font-size="11.5" textLength="5.89" lengthAdjust="spacingAndGlyphs">a</tspan><tspan x="31.75" y="1.9" font-size="8.4" textLength="3.41" lengthAdjust="spacingAndGlyphs">1</tspan><tspan class="i" x="35.96" y="0" font-size="11.5" textLength="5.86" lengthAdjust="spacingAndGlyphs">q</tspan><tspan class="pl" x="44.23" y="2.6" font-size="16" textLength="9.33" lengthAdjust="spacingAndGlyphs">+</tspan><tspan class="i" x="56.29" y="0" font-size="11.5" textLength="6.13" lengthAdjust="spacingAndGlyphs">a</tspan><tspan x="62.59" y="1.9" font-size="8.4" textLength="4.12" lengthAdjust="spacingAndGlyphs">2</tspan><tspan class="i" x="66.87" y="0" font-size="11.5" textLength="5.75" lengthAdjust="spacingAndGlyphs">q</tspan><tspan x="72.78" y="-4.2" font-size="8.4" textLength="4.24" lengthAdjust="spacingAndGlyphs">2</tspan></text>
</g>
</svg></body></html>
